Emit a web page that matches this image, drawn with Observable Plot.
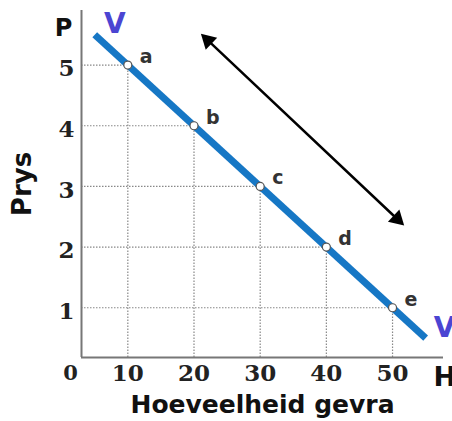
<!DOCTYPE html>
<html><head><meta charset="utf-8">
<script src="https://cdn.jsdelivr.net/npm/d3@7"></script>
<script src="https://cdn.jsdelivr.net/npm/@observablehq/plot@0.6"></script>
<style>body{margin:0;background:#fff}</style>
</head><body><div id="chart"></div>
<script>
// Data
const pointLabels = ["a", "b", "c", "d", "e"];
const quantities = [10, 20, 30, 40, 50];
const prices = [5, 4, 3, 2, 1];
const xTicks = [10, 20, 30, 40, 50];
const yTicks = [1, 2, 3, 4, 5];
const originLabel = "0";
const demandX = [5, 55];
const demandY = [5.5, 0.5];
const curveLabel = "V";
const arrowX = [21, 51.8];
const arrowY = [5.52, 2.35];
const xDomain = [3, 57.7];
const yDomain = [0.18, 5.9];
const xAxisLetter = "H";
const yAxisLetter = "P";
const xTitle = "Hoeveelheid gevra";
const yTitle = "Prys";

const points = pointLabels.map((label, i) => ({label, q: quantities[i], p: prices[i]}));
const demand = demandX.map((x, i) => ({x, y: demandY[i]}));
const arrowRow = [{x1: arrowX[0], y1: arrowY[0], x2: arrowX[1], y2: arrowY[1]}];
const arrowStart = [{x: arrowX[0], y: arrowY[0]}];
const arrowEnd = [{x: arrowX[1], y: arrowY[1]}];

const sans = "DejaVu Sans";
const serif = "DejaVu Serif";
const blue = "#1677c5";
const vColor = "#4b45d2";

const chart = Plot.plot({
  width: 452,
  height: 421,
  marginLeft: 81,
  marginRight: 9,
  marginTop: 10,
  marginBottom: 64,
  x: {domain: xDomain, axis: null},
  y: {domain: yDomain, axis: null},
  style: {background: "white"},
  marks: [
    // drop lines
    Plot.ruleY(points, {y: "p", x1: xDomain[0], x2: "q", stroke: "#888", strokeWidth: 1.2, strokeDasharray: "1.5,1.5"}),
    Plot.ruleX(points, {x: "q", y1: yDomain[0], y2: "p", stroke: "#888", strokeWidth: 1.2, strokeDasharray: "1.5,1.5"}),
    // axis lines
    Plot.ruleX([xDomain[0]], {y1: yDomain[0], y2: yDomain[1], stroke: "#777", strokeWidth: 2}),
    Plot.ruleY([yDomain[0]], {x1: xDomain[0], x2: xDomain[1], stroke: "#777", strokeWidth: 2}),
    // tick labels
    Plot.axisX({ticks: xTicks, tickFormat: d3.format("d"), tickSize: 0, tickPadding: 7, fontSize: 23, fontFamily: serif, fontWeight: "bold", fill: "#222", label: null}),
    Plot.axisY({ticks: yTicks, tickFormat: d3.format("d"), tickSize: 0, tickPadding: 7, fontSize: 23, fontFamily: serif, fontWeight: "bold", fill: "#222", dy: 4, label: null}),
    Plot.text([originLabel], {x: xDomain[0], y: yDomain[0], text: d => d, dx: -11, dy: 16, fontSize: 21, fontFamily: serif, fontWeight: "bold", fill: "#222"}),
    // demand line
    Plot.line(demand, {x: "x", y: "y", stroke: blue, strokeWidth: 7, strokeLinecap: "butt"}),
    Plot.dot(points, {x: "q", y: "p", r: 4, fill: "white", stroke: "#555", strokeWidth: 1.2}),
    Plot.text(points, {x: "q", y: "p", text: "label", textAnchor: "start", lineAnchor: "bottom", dx: 12, dy: -2, fontSize: 19, fontWeight: "bold", fontFamily: sans, fill: "#333"}),
    // V labels
    Plot.text([demand[0]], {x: "x", y: "y", text: () => curveLabel, dx: 20, dy: -11, fontSize: 28, fontWeight: "bold", fontFamily: sans, fill: vColor}),
    Plot.text([demand[1]], {x: "x", y: "y", text: () => curveLabel, dx: 19, dy: -10, fontSize: 28, fontWeight: "bold", fontFamily: sans, fill: vColor}),
    // double arrow
    Plot.arrow(arrowRow, {x1: "x1", y1: "y1", x2: "x2", y2: "y2", headLength: 0, insetStart: 6, insetEnd: 6, stroke: "black", strokeWidth: 2.5}),
    Plot.dot(arrowStart, {x: "x", y: "y", symbol: "triangle", r: 6.2, fill: "black", rotate: -46.7, dx: 7.3, dy: 6.9}),
    Plot.dot(arrowEnd, {x: "x", y: "y", symbol: "triangle", r: 6.2, fill: "black", rotate: 133.3, dx: -7.3, dy: -6.9}),
    // axis titles
    Plot.text([yAxisLetter], {frameAnchor: "top-left", text: d => d, textAnchor: "middle", lineAnchor: "middle", dx: -18, dy: 18, fontSize: 24, fontWeight: "bold", fontFamily: sans, fill: "#111"}),
    Plot.text([xAxisLetter], {frameAnchor: "bottom-right", text: d => d, textAnchor: "start", lineAnchor: "middle", dx: -10, dy: 20, fontSize: 27, fontWeight: "bold", fontFamily: sans, fill: "#111"}),
    Plot.text([yTitle], {frameAnchor: "left", text: d => d, textAnchor: "middle", lineAnchor: "middle", rotate: -90, dx: -59, fontSize: 26, fontWeight: "bold", fontFamily: sans, fill: "#111"}),
    Plot.text([xTitle], {frameAnchor: "bottom", text: d => d, textAnchor: "middle", lineAnchor: "middle", dy: 47, fontSize: 25, fontWeight: "bold", fontFamily: sans, fill: "#111"})
  ]
});
document.getElementById("chart").appendChild(chart);
</script>
</body></html>
